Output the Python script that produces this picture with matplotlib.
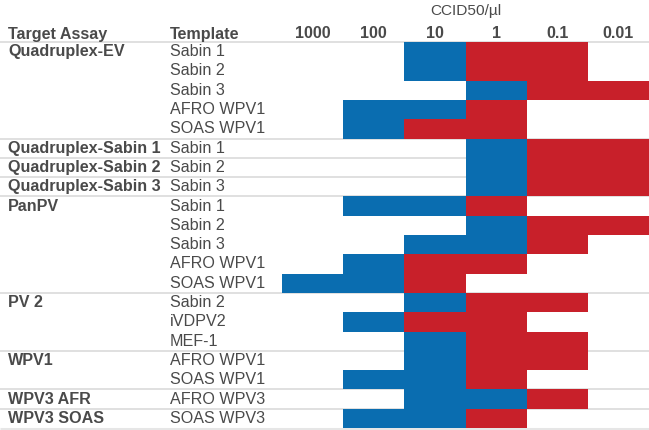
import matplotlib
matplotlib.use("Agg")
import matplotlib.pyplot as plt

# ---- data ----
conc_labels = ["1000", "100", "10", "1", "0.1", "0.01"]
axis_title = "CCID50/\u00b5l"

groups = ["Quadruplex-EV", "Quadruplex-Sabin 1", "Quadruplex-Sabin 2",
          "Quadruplex-Sabin 3", "PanPV", "PV 2", "WPV1", "WPV3 AFR", "WPV3 SOAS"]
group_sizes = [5, 1, 1, 1, 5, 3, 2, 1, 1]

templates = ["Sabin 1", "Sabin 2", "Sabin 3", "AFRO WPV1", "SOAS WPV1",
             "Sabin 1", "Sabin 2", "Sabin 3",
             "Sabin 1", "Sabin 2", "Sabin 3", "AFRO WPV1", "SOAS WPV1",
             "Sabin 2", "iVDPV2", "MEF-1",
             "AFRO WPV1", "SOAS WPV1",
             "AFRO WPV3", "SOAS WPV3"]
# highest / lowest concentration shown blue, lowest concentration shown red
blue_first = ["10", "10", "1", "100", "100", "1", "1", "1",
              "100", "1", "10", "100", "1000", "10", "100", "10",
              "10", "100", "10", "100"]
blue_last = ["10", "10", "1", "10", "100", "1", "1", "1",
             "10", "1", "1", "100", "100", "10", "100", "10",
             "10", "10", "1", "10"]
red_last = ["0.1", "0.1", "0.01", "1", "1", "0.01", "0.01", "0.01",
            "1", "0.01", "0.1", "1", "10", "0.1", "1", "0.1",
            "0.1", "1", "0.1", "1"]

BLUE = "#0a6db0"
RED = "#c8202a"
TXT = "#4a4a4a"
LINE = "#dddddd"
FONT = ["Liberation Sans", "DejaVu Sans"]
FS = 11.6

W, H = 649, 430
fig = plt.figure(figsize=(W / 100, H / 100), dpi=100)
left_px, right_px, top_px, bot_px = 282, 649, 42, 428
ax = fig.add_axes([left_px / W, (H - bot_px) / H, (right_px - left_px) / W, (bot_px - top_px) / H])
ncols = len(conc_labels)
nrows = len(templates)
ax.set_xlim(0, ncols)
ax.set_ylim(nrows, 0)
ax.axis("off")
colw = (right_px - left_px) / ncols
rowh = (bot_px - top_px) / nrows

def px2x(px):
    return (px - left_px) / colw

def py2y(py):
    return (py - top_px) / rowh

rows = list(range(nrows))
bs = [conc_labels.index(v) for v in blue_first]
be = [conc_labels.index(v) + 1 for v in blue_last]
re_ = [conc_labels.index(v) + 1 for v in red_last]

ax.barh([r + 0.5 for r in rows], [e - s for s, e in zip(bs, be)], left=bs,
        height=1.0, color=BLUE, zorder=3, linewidth=0)
ax.barh([r + 0.5 for r in rows], [e - s for s, e in zip(be, re_)], left=be,
        height=1.0, color=RED, zorder=3, linewidth=0)

# separator lines
x0 = px2x(0)
bounds = [0]
acc = 0
for g in group_sizes:
    acc += g
    bounds.append(acc)
for b in bounds[:-1]:
    ax.plot([x0, ncols], [b, b], color=LINE, lw=1.3, zorder=1, clip_on=False,
            solid_capstyle="butt")
ax.plot([x0, ncols], [nrows + 0.05, nrows + 0.05], color="#e6e6e6", lw=2.2, zorder=1,
        clip_on=False, solid_capstyle="butt")

# headers
hy = py2y(34)
ax.text(px2x(8), hy, "Target Assay", ha="left", va="center", fontsize=FS,
        fontweight="bold", color=TXT, family=FONT, clip_on=False)
ax.text(px2x(170), hy, "Template", ha="left", va="center", fontsize=FS,
        fontweight="bold", color=TXT, family=FONT, clip_on=False)
for i, lab in enumerate(conc_labels):
    ax.text(i + 0.5, hy, lab, ha="center", va="center", fontsize=FS,
            fontweight="bold", color=TXT, family=FONT, clip_on=False)
ax.text(ncols / 2, py2y(11), axis_title, ha="center", va="center", fontsize=FS - 0.5,
        color=TXT, family=FONT, clip_on=False)

# row labels
for g, b in zip(groups, bounds[:-1]):
    ax.text(px2x(8), b + 0.5, g, ha="left", va="center", fontsize=FS,
            fontweight="bold", color=TXT, family=FONT, clip_on=False)
for r, t in zip(rows, templates):
    ax.text(px2x(170), r + 0.5, t, ha="left", va="center", fontsize=FS,
            color=TXT, family=FONT, clip_on=False)

fig.savefig("out.png", dpi=100, facecolor="white")
